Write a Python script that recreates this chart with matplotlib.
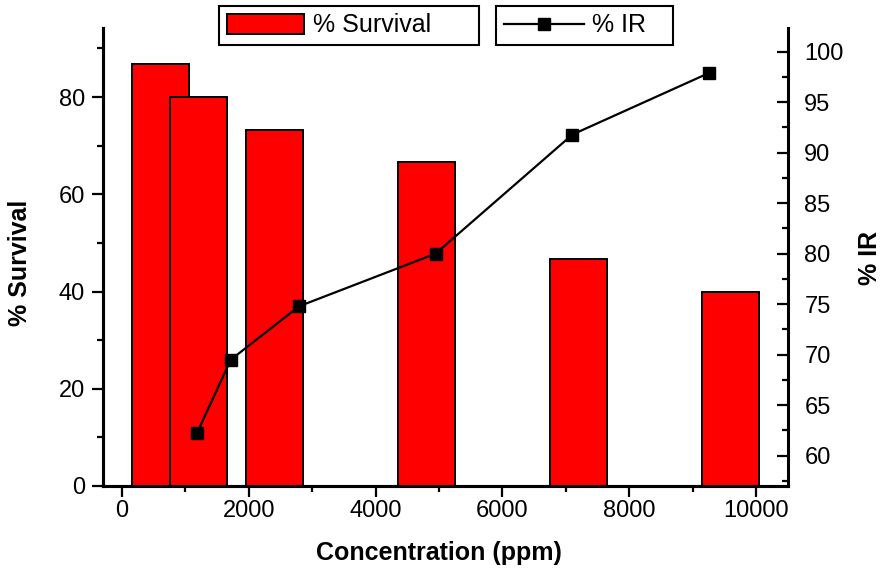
import matplotlib
matplotlib.use("Agg")
import matplotlib.pyplot as plt
from matplotlib.ticker import MultipleLocator

plt.rcParams['font.family'] = ['Liberation Sans', 'DejaVu Sans']

# bars: % survival at each concentration
conc_bar = [600, 1200, 2400, 4800, 7200, 9600]
survival = [86.7, 80.0, 73.3, 66.7, 46.7, 40.0]

# line: % IR
conc_ir = [1180, 1715, 2795, 4945, 7105, 9260]
ir = [62.2, 69.5, 74.8, 80.0, 91.8, 97.9]

fig = plt.figure(figsize=(8.88, 5.68), dpi=100)
ax1 = fig.add_axes([0.116, 0.1444, 0.771, 0.8063])
ax2 = ax1.twinx()

bars = ax1.bar(conc_bar, survival, width=900, color='#ff0000',
               edgecolor='black', linewidth=1.4, label='% Survival')
line, = ax2.plot(conc_ir, ir, color='black', lw=1.6, marker='s', ms=8,
                 label='% IR')

ax1.set_xlim(-300, 10500)
ax1.set_ylim(0, 94.2)
ax2.set_ylim(57.0, 102.35)

ax1.xaxis.set_major_locator(MultipleLocator(2000))
ax1.xaxis.set_minor_locator(MultipleLocator(1000))
ax1.yaxis.set_major_locator(MultipleLocator(20))
ax1.yaxis.set_minor_locator(MultipleLocator(10))
ax2.yaxis.set_major_locator(MultipleLocator(5))
ax2.yaxis.set_minor_locator(MultipleLocator(2.5))

for ax in (ax1, ax2):
    ax.spines['top'].set_visible(False)
    for s in ('left', 'right', 'bottom'):
        ax.spines[s].set_linewidth(2.2)

ax1.spines['right'].set_visible(False)
ax1.tick_params(axis='both', which='major', direction='out', length=8,
                width=1.6, labelsize=17, pad=2)
ax1.tick_params(axis='both', which='minor', direction='out', length=4,
                width=1.6)
ax1.tick_params(axis='y', which='major', pad=5)
ax2.tick_params(axis='y', which='major', direction='in', length=8,
                width=1.6, labelsize=17, pad=12)
ax2.tick_params(axis='y', which='minor', direction='in', length=4,
                width=1.6)

ax1.set_xlabel('Concentration (ppm)', fontsize=18, fontweight='bold')
ax1.set_ylabel('% Survival', fontsize=18, fontweight='bold')
ax2.set_ylabel('% IR', fontsize=18, fontweight='bold')
ax1.xaxis.set_label_coords(0.491, -0.12)
ax1.yaxis.set_label_coords(-0.104, 0.487)
ax2.yaxis.set_label_coords(1.103, 0.498)

top = 1 - 45 / 568
hgt = 38 / 568
leg1 = fig.legend(handles=[bars], labels=['% Survival'], loc='lower left',
                  bbox_to_anchor=(219 / 888, top, 260 / 888, hgt),
                  mode='expand', fontsize=18,
                  frameon=True, fancybox=False, edgecolor='black',
                  framealpha=1, borderpad=0.3, handlelength=3.1,
                  handleheight=0.85, handletextpad=0.35, borderaxespad=0)
leg1.get_frame().set_linewidth(1.5)
leg2 = fig.legend(handles=[line], labels=['% IR'], loc='lower left',
                  bbox_to_anchor=(496 / 888, top, 177 / 888, hgt),
                  mode='expand', fontsize=18,
                  frameon=True, fancybox=False, edgecolor='black',
                  framealpha=1, borderpad=0.3, handlelength=3.2,
                  handletextpad=0.35, borderaxespad=0)
leg2.get_frame().set_linewidth(1.5)

fig.savefig('out.png', dpi=100)
